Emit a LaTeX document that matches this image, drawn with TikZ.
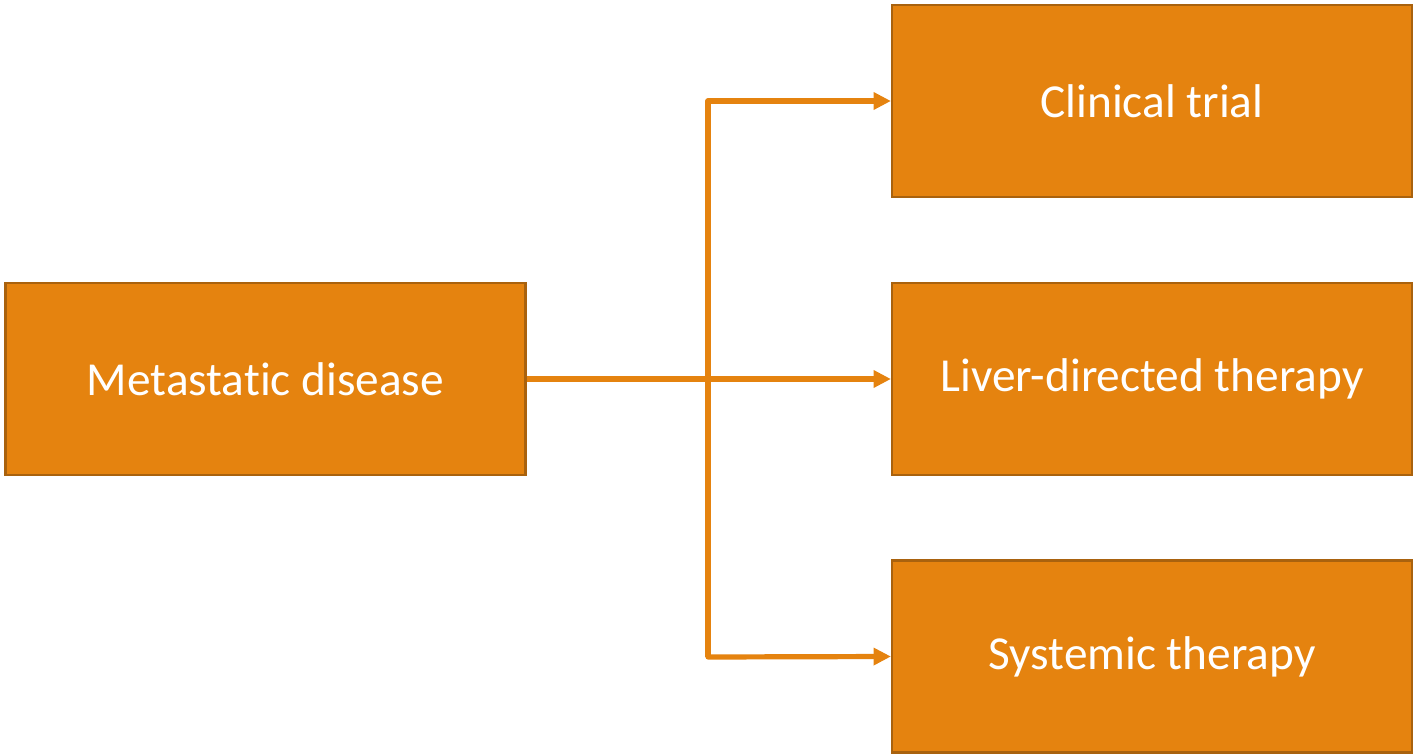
\documentclass[tikz,border=0pt]{standalone}
\usepackage{fontspec}
\setmainfont[Ligatures=CommonOff]{Carlito}
\usetikzlibrary{arrows.meta}
\definecolor{boxfill}{HTML}{E5830F}
\definecolor{boxedge}{HTML}{A9620E}
\tikzset{
  box/.style={draw=boxedge, fill=boxfill, line width=1.6pt, minimum width=390pt, minimum height=144pt, inner sep=0pt, text=white, font=\fontsize{35.5}{40}\selectfont},
  conn/.style={draw=boxfill, line width=3.9pt, line join=round, -{Triangle[length=13pt,width=12.5pt]}}
}
\begin{document}
\begin{tikzpicture}[x=0.75pt,y=-0.75pt]
\useasboundingbox (0,0) rectangle (1416,755);
\node[box] (m) at (265.5,379) {Metastatic disease};
\node[box] (c) at (1152,101) {Clinical trial};
\node[box] (l) at (1152,379) {Liver-directed therapy};
\node[box] (s) at (1152,656.5) {Systemic therapy};
\coordinate (top) at (708,101);
\coordinate (bot) at (708,657);
\draw[conn] (m.east) -- (l.west);
\draw[conn] (bot) -- (top) -- (c.west);
\draw[conn] (top) -- (bot) -- (s.west);
\end{tikzpicture}
\end{document}
